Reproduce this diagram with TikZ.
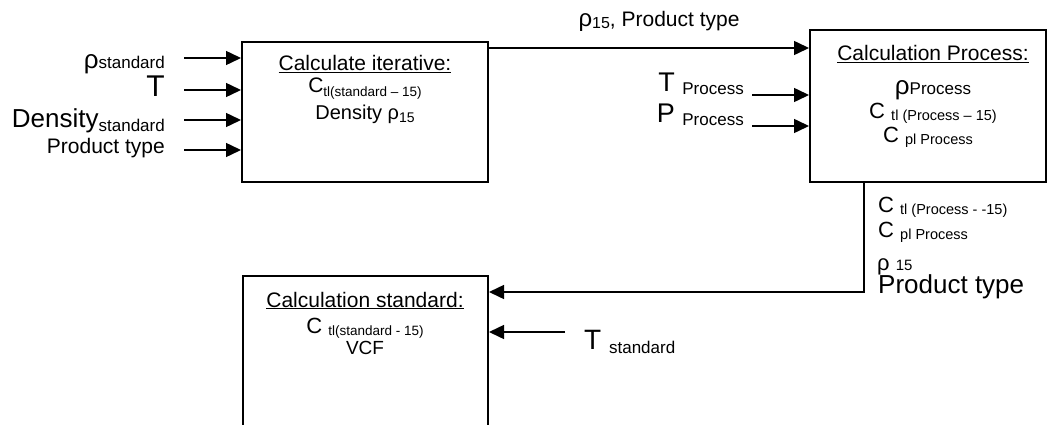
\documentclass[tikz,border=0pt]{standalone}
\usepackage{fontspec}
\setmainfont{Liberation Sans}
\usetikzlibrary{positioning}
\usetikzlibrary{arrows.meta}

\newcommand{\fsz}[1]{\fontsize{#1}{#1}\selectfont}
\newcommand{\lowsub}[3]{\raisebox{-#1pt}{\fsz{#2}#3}}

\begin{document}
\begin{tikzpicture}[
    x=1pt, y=-1pt,
    box/.style={draw, line width=2pt, inner sep=0pt},
    txt/.style={anchor=base, inner sep=0pt},
    lbl/.style={anchor=base east, inner sep=0pt},
    flow/.style={line width=1.5pt, -{Triangle[length=15pt,width=14pt]}}
]
    \useasboundingbox (0,0) rectangle (1048,425);

    % Calculate iterative
    \node[box, minimum width=246pt, minimum height=140pt] (iter) at (365,112) {};
    \node[txt] (iterTitle) at (365,71) {\fsz{21}\underline{Calculate iterative:}};
    \node[txt] (iterCtl) at (365,93) {\fsz{21}C\lowsub{3}{13.5}{tl(standard – 15)}};
    \node[txt] (iterDens) at (365,120) {\fsz{20}Density ρ\lowsub{2}{14}{15}};

    % inputs of the iteration
    \coordinate (inRho) at (184,58);
    \coordinate (inT) at (184,90);
    \coordinate (inDens) at (184,120);
    \coordinate (inType) at (184,150);
    \node[lbl] (rhoStd) at (165,69) {\fsz{26}ρ\lowsub{0}{17}{standard}};
    \node[lbl] (tLeft) at (165,97) {\fsz{30}T};
    \node[lbl] (densStd) at (165,128) {\fsz{26}Density\lowsub{3}{17}{standard}};
    \node[lbl] (typeLeft) at (165,153) {\fsz{21}Product type};
    \draw[flow] (inRho) -- (inRho -| iter.west);
    \draw[flow] (inT) -- (inT -| iter.west);
    \draw[flow] (inDens) -- (inDens -| iter.west);
    \draw[flow] (inType) -- (inType -| iter.west);

    % Calculation Process
    \node[box, minimum width=236pt, minimum height=152pt] (proc) at (928,106) {};
    \node[txt] (procTitle) at (933,61) {\fsz{21}\underline{Calculation Process:}};
    \node[txt] (procRho) at (933,95) {\fsz{26}ρ\fsz{17}Process};
    \node[txt] (procCtl) at (933,118) {\fsz{22}C \lowsub{2}{14.5}{tl (Process – 15)}};
    \node[txt] (procCpl) at (928,142) {\fsz{22}C \lowsub{2}{14.5}{pl Process}};

    \draw[flow] ([yshift=-7pt]iter.north east) -- ([yshift=-7pt]iter.north east -| proc.west);
    \node[txt] (topLbl) at (659,27) {\fsz{24}ρ\lowsub{2}{16}{15}\fsz{21}, Product type};

    % process inputs
    \coordinate (inTp) at (752,95);
    \coordinate (inPp) at (752,126);
    \node[lbl] (tProc) at (744,92) {\fsz{27}T \lowsub{3}{17}{Process}};
    \node[lbl] (pProc) at (744,122) {\fsz{27}P \lowsub{3}{17}{Process}};
    \draw[flow] (inTp) -- (inTp -| proc.west);
    \draw[flow] (inPp) -- (inPp -| proc.west);

    % Calculation standard
    \node[box, minimum width=245pt, minimum height=174pt] (stdc) at (365.5,363) {};
    \node[txt] (stdTitle) at (365,307) {\fsz{21}\underline{Calculation standard:}};
    \node[txt] (stdCtl) at (365,333) {\fsz{22}C \lowsub{2}{13.5}{tl(standard - 15)}};
    \node[txt] (stdVcf) at (365,354) {\fsz{19}VCF};

    \draw[flow] ([xshift=55pt]proc.south west) |- ([yshift=-17pt]stdc.north east);
    \node[txt, anchor=base west] (outCtl) at (878,212) {\fsz{22}C \lowsub{2}{14.5}{tl (Process - -15)}};
    \node[txt, anchor=base west] (outCpl) at (878,237) {\fsz{22}C \lowsub{2}{14.5}{pl Process}};
    \node[txt, anchor=base west] (outRho) at (877,270) {\fsz{22}ρ \fsz{15}15};
    \node[txt, anchor=base west] (outType) at (878,293) {\fsz{26}Product type};

    \coordinate (inTs) at (565,332);
    \node[txt, anchor=base west] (tStd) at (584,349) {\fsz{28}T \lowsub{4}{17}{standard}};
    \draw[flow] (inTs) -- (inTs -| stdc.east);
\end{tikzpicture}
\end{document}
